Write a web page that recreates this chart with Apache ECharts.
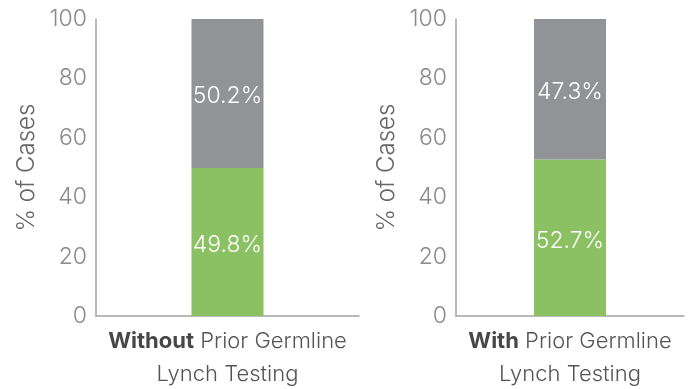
<!DOCTYPE html>
<html>
<head>
<meta charset="utf-8">
<script src="https://cdn.jsdelivr.net/npm/echarts@6/dist/echarts.min.js"></script>
<style>
  html, body { margin: 0; padding: 0; background: #ffffff; }
  #chart { width: 693px; height: 389px; }
</style>
</head>
<body>
<div id="chart"></div>
<script>
// Panel groups (bold lead word) and the shared rest of the category caption
const groupLeads = ['Without', 'With'];
const captionLine1 = ' Prior Germline';
const captionLine2 = 'Lynch Testing';

// Share of cases per panel (%)
const greenShare = [49.8, 52.7];
const grayShare = [50.2, 47.3];

// Y axis ticks
const yMin = 0, yMax = 100, yStep = 20;
const yTitle = '% of Cases';

const GREEN = '#8bc063';
const GRAY = '#929396';
const AXIS = '#a3a3a3';
const TICK_TEXT = '#8a8a8a';
const FONT = 'Inter, Lato, sans-serif';

const chart = echarts.init(document.getElementById('chart'), null, { renderer: 'canvas' });

const grids = [
  { left: 96, top: 19, width: 263, bottom: 73 },
  { left: 456, top: 19, width: 228, bottom: 73 }
];

const xAxes = groupLeads.map((lead, i) => ({
  type: 'category',
  gridIndex: i,
  data: [lead],
  axisLine: { show: true, lineStyle: { color: AXIS, width: 1.5 } },
  axisTick: { show: false },
  axisLabel: {
    margin: 9,
    interval: 0,
    formatter: v => '{b|' + v + '}{r|' + captionLine1 + '}\n{r|' + captionLine2 + '}',
    rich: {
      b: { fontFamily: FONT, fontSize: 22, fontWeight: 'bold', color: '#474747', lineHeight: 33 },
      r: { fontFamily: FONT, fontSize: 22, fontWeight: 300, color: '#555555', lineHeight: 33 }
    }
  }
}));

const yAxes = groupLeads.map((_, i) => ({
  type: 'value',
  gridIndex: i,
  min: yMin,
  max: yMax,
  interval: yStep,
  name: yTitle,
  nameLocation: 'middle',
  nameGap: 57,
  nameTextStyle: { fontFamily: FONT, fontSize: 24, fontWeight: 300, color: '#666666' },
  axisLine: { show: true, lineStyle: { color: AXIS, width: 1.5 } },
  axisTick: { show: false },
  splitLine: { show: false },
  axisLabel: {
    margin: 9, fontFamily: FONT, fontSize: 23, fontWeight: 300, color: TICK_TEXT,
    padding: [3, 0, 0, 0]
  }
}));

const barLabel = {
  show: true,
  position: 'inside',
  color: '#ffffff',
  fontFamily: FONT,
  fontSize: 23,
  fontWeight: 300,
  offset: [0, 3],
  formatter: p => p.value.toFixed(1) + '%'
};

const series = [];
groupLeads.forEach((_, i) => {
  series.push({
    type: 'bar', xAxisIndex: i, yAxisIndex: i, stack: 'panel' + i,
    barWidth: 72, data: [greenShare[i]],
    itemStyle: { color: GREEN }, label: barLabel, silent: true
  });
  series.push({
    type: 'bar', xAxisIndex: i, yAxisIndex: i, stack: 'panel' + i,
    barWidth: 72, data: [grayShare[i]],
    itemStyle: { color: GRAY }, label: barLabel, silent: true
  });
});

chart.setOption({
  animation: false,
  backgroundColor: '#ffffff',
  grid: grids,
  xAxis: xAxes,
  yAxis: yAxes,
  series: series
});
</script>
</body>
</html>
